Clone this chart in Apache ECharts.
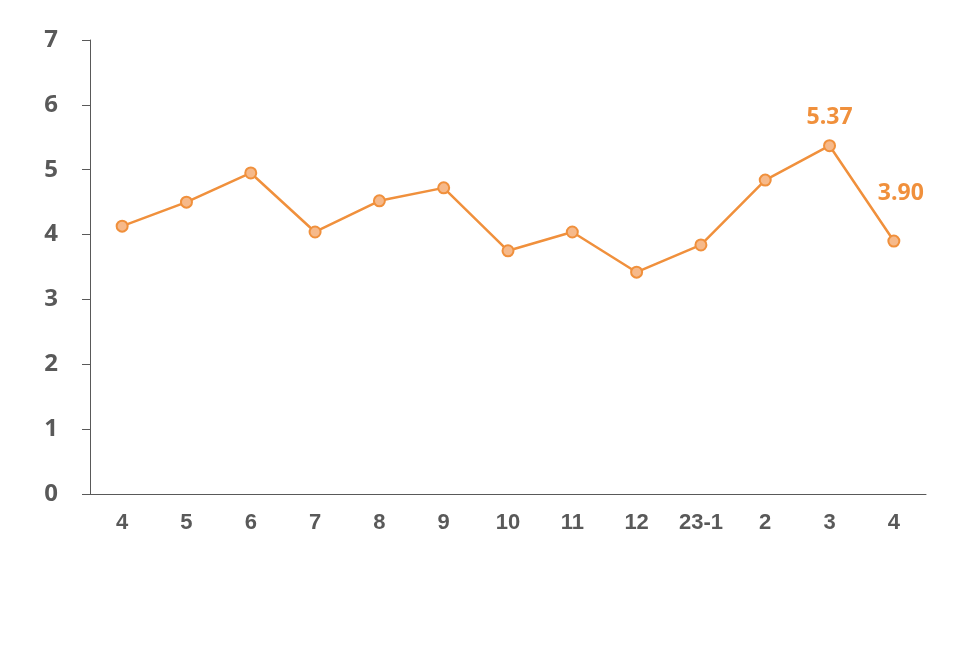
<!DOCTYPE html>
<html>
<head>
<meta charset="utf-8">
<script src="https://cdn.jsdelivr.net/npm/echarts@6/dist/echarts.min.js"></script>
<style>
  html, body { margin: 0; padding: 0; background: #fff; }
  #chart { width: 960px; height: 651px; }
</style>
</head>
<body>
<div id="chart"></div>
<script>
  // 月份
  var months = ['4', '5', '6', '7', '8', '9', '10', '11', '12', '23-1', '2', '3', '4']
  var values = [4.13, 4.50, 4.95, 4.04, 4.52, 4.72, 3.75, 4.04, 3.42, 3.84, 4.84, 5.37, 3.90]
  var yTicks = [0, 1, 2, 3, 4, 5, 6, 7]

  var chart = echarts.init(document.getElementById('chart'))
  var lastIdx = values.length - 1

  var option = {
    animation: false,
    grid: {
      left: 90,
      right: 34,
      top: 40,
      bottom: 157
    },
    xAxis: {
      type: 'category',
      data: months,
      boundaryGap: true,
      axisLine: { lineStyle: { color: '#595959', width: 1 } },
      axisTick: { alignWithLabel: true, length: 6, lineStyle: { color: '#595959' } },
      axisLabel: {
        color: '#595959',
        fontSize: 22,
        fontWeight: 'bold',
        fontFamily: 'Liberation Sans',
        margin: 18,
        interval: 0
      },
      splitLine: { show: false }
    },
    yAxis: {
      type: 'value',
      min: yTicks[0],
      max: yTicks[yTicks.length - 1],
      interval: 1,
      axisLine: { show: true, lineStyle: { color: '#595959', width: 1 } },
      axisTick: { show: true, length: 8, lineStyle: { color: '#595959' } },
      axisLabel: {
        color: '#595959',
        fontSize: 24,
        fontWeight: 'bold',
        fontFamily: 'Open Sans',
        margin: 32
      },
      splitLine: { show: false }
    },
    series: [
      {
        type: 'line',
        data: values.map(function (v, i) {
          var item = { value: v }
          if (i === lastIdx - 1) {
            item.label = { show: true, position: 'top', distance: 10 }
          } else if (i === lastIdx) {
            item.label = { show: true, position: 'top', distance: 30, offset: [7, 0] }
          }
          return item
        }),
        lineStyle: { color: '#F0903C', width: 2.5 },
        symbol: 'circle',
        symbolSize: 11,
        itemStyle: {
          color: '#F6B98A',
          borderColor: '#F0903C',
          borderWidth: 2
        },
        label: {
          show: false,
          color: '#F0903C',
          fontSize: 23,
          fontWeight: 'bold',
          fontFamily: 'Open Sans',
          formatter: function (p) {
            return p.value.toFixed(2)
          }
        }
      }
    ]
  }
  chart.setOption(option)
</script>
</body>
</html>
